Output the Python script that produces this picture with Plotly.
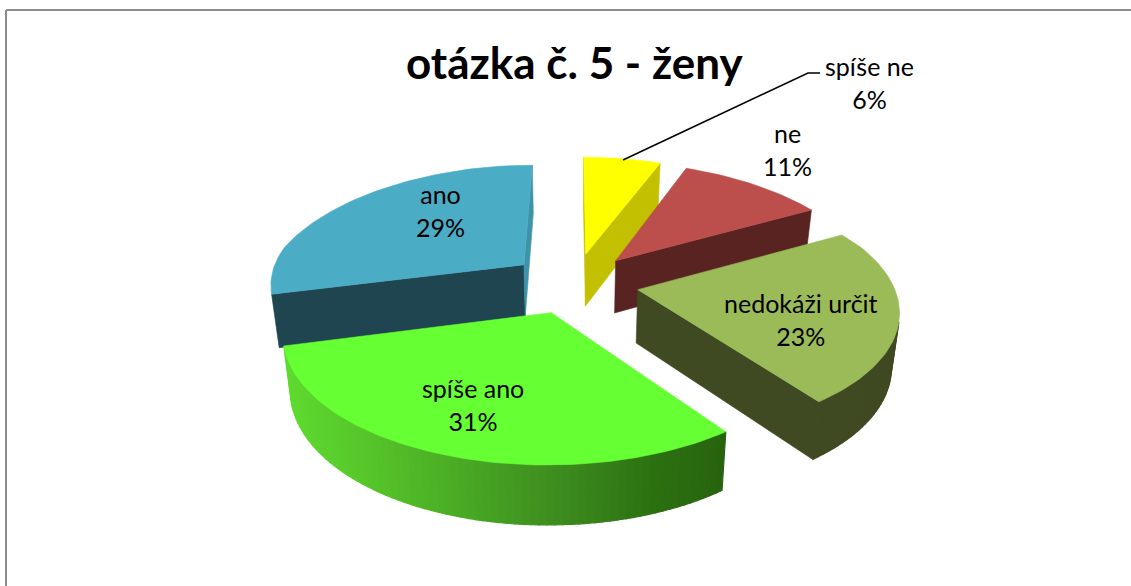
import math
import plotly.graph_objects as go

categories = ["spíše ne", "ne", "nedokáži určit", "spíše ano", "ano"]
values = [6, 11, 23, 31, 29]
top_colors = ["#FFFF00", "#BC4F4C", "#9BBB59", "#66FF33", "#4BACC6"]
side_colors = ["#C2C000", "#592321", "#3F4922", "#3F8F20", "#1F4550"]
# screen x -> colour of the rim of the big green slice
rim_x = [283, 400, 560, 650, 726]
rim_colors = ["#5FDB30", "#52BC28", "#3D8C1F", "#2D7212", "#28640F"]

# projection of the tilted pie
CX, CY = 574, 283
R = 255
TILT = 0.469
PERSP = 0.15
HEIGHT = 53
EXPLODE = 0.254
BOTTOM_SHRINK = 0.025
FAR_NARROW = 0.05


def project(x, y, lower=0):
    s = 1 / (1 - PERSP * y)
    # the far part of the pie narrows a bit more than it flattens
    sx = CX + R * x * s * (1 + FAR_NARROW * min(0, y + 0.3))
    sy = CY + R * TILT * y * s
    if lower:
        sx = CX + (sx - CX) * (1 - BOTTOM_SHRINK)
        sy = sy + HEIGHT * s ** 0.6
    return sx, sy


def area(pts):
    total = 0
    for i in range(len(pts)):
        x0, y0 = pts[i]
        x1, y1 = pts[(i + 1) % len(pts)]
        total += x0 * y1 - x1 * y0
    return total / 2


def rim_color(x):
    if x <= rim_x[0]:
        return rim_colors[0]
    for i in range(len(rim_x) - 1):
        if x <= rim_x[i + 1]:
            t = (x - rim_x[i]) / (rim_x[i + 1] - rim_x[i])
            c0 = [int(rim_colors[i][j:j + 2], 16) for j in (1, 3, 5)]
            c1 = [int(rim_colors[i + 1][j:j + 2], 16) for j in (1, 3, 5)]
            return "rgb(%d,%d,%d)" % tuple(a + (b - a) * t for a, b in zip(c0, c1))
    return rim_colors[-1]


fig = go.Figure()


def add_poly(pts, color, width=0.6):
    fig.add_trace(go.Scatter(
        x=[p[0] for p in pts] + [pts[0][0]],
        y=[p[1] for p in pts] + [pts[0][1]],
        mode="lines",
        fill="toself",
        fillcolor=color,
        line=dict(color=color, width=width),
        hoverinfo="skip",
        showlegend=False,
    ))


# angles per slice, clockwise from the top
starts = []
running = 0
for v in values:
    starts.append(running)
    running += v

# back slices first, the big green one last
draw_order = [4, 0, 1, 2, 3]
for i in draw_order:
    a0 = math.radians(starts[i] * 3.6)
    a1 = math.radians((starts[i] + values[i]) * 3.6)
    mid = (a0 + a1) / 2
    ox = EXPLODE * math.sin(mid)
    oy = -EXPLODE * math.cos(mid)
    n = max(4, int(values[i] * 3.6 / 1.5))
    angles = [a0 + (a1 - a0) * j / n for j in range(n + 1)]
    rim = [(ox + math.sin(a), oy - math.cos(a)) for a in angles]

    top_apex = project(ox, oy)
    low_apex = project(ox, oy, 1)
    side = side_colors[i]

    # straight cut faces
    first = [top_apex, project(*rim[0]), project(*rim[0], 1), low_apex]
    if area(first) < 0:
        add_poly(first, side)
    last = [top_apex, project(*rim[-1]), project(*rim[-1], 1), low_apex]
    if area(last) > 0:
        add_poly(last, "#3F93A9" if categories[i] == "ano" else side)

    # outer rim, one strip per step so the green one can carry its gradient
    for p, q in zip(rim[:-1], rim[1:]):
        quad = [project(*p), project(*q), project(*q, 1), project(*p, 1)]
        if area(quad) < 0:
            color = side
            if categories[i] == "spíše ano":
                color = rim_color((quad[0][0] + quad[1][0]) / 2)
            add_poly(quad, color, 1.2)

    add_poly([top_apex] + [project(*p) for p in rim], top_colors[i])

# leader line of the smallest slice
fig.add_trace(go.Scatter(
    x=[623, 808, 820], y=[160, 73, 73], mode="lines",
    line=dict(color="#000000", width=1.5),
    hoverinfo="skip", showlegend=False,
))

label_pos = {
    "spíše ne": (869, 82),
    "ne": (787, 149),
    "nedokáži určit": (801, 319),
    "spíše ano": (473, 404),
    "ano": (440, 210),
}
for cat, val in zip(categories, values):
    x, y = label_pos[cat]
    fig.add_annotation(x=x, y=y, text=f"{cat}<br>{val}%", showarrow=False,
                       font=dict(family="Lato", size=25, color="#000000"))

fig.add_annotation(x=574, y=62, text="<b>otázka č. 5 - ženy</b>", showarrow=False,
                   font=dict(family="Lato", size=44, color="#000000"))

# chart frame, only top and left show in the crop
fig.add_shape(type="line", x0=6, x1=6, y0=10, y1=586, line=dict(color="#8C8C8C", width=2))
fig.add_shape(type="line", x0=6, x1=1131, y0=10, y1=10, line=dict(color="#8C8C8C", width=2))

fig.update_xaxes(range=[0, 1131], visible=False, fixedrange=True)
fig.update_yaxes(range=[586, 0], visible=False, fixedrange=True)
fig.update_layout(
    width=1131, height=586,
    margin=dict(l=0, r=0, t=0, b=0),
    paper_bgcolor="#FFFFFF",
    plot_bgcolor="#FFFFFF",
    showlegend=False,
)

# page margin would push the plot off by 8px
fig.write_html("out.html", config=dict(displayModeBar=False),
               post_script="document.body.style.margin='0';document.body.style.overflow='hidden';")
